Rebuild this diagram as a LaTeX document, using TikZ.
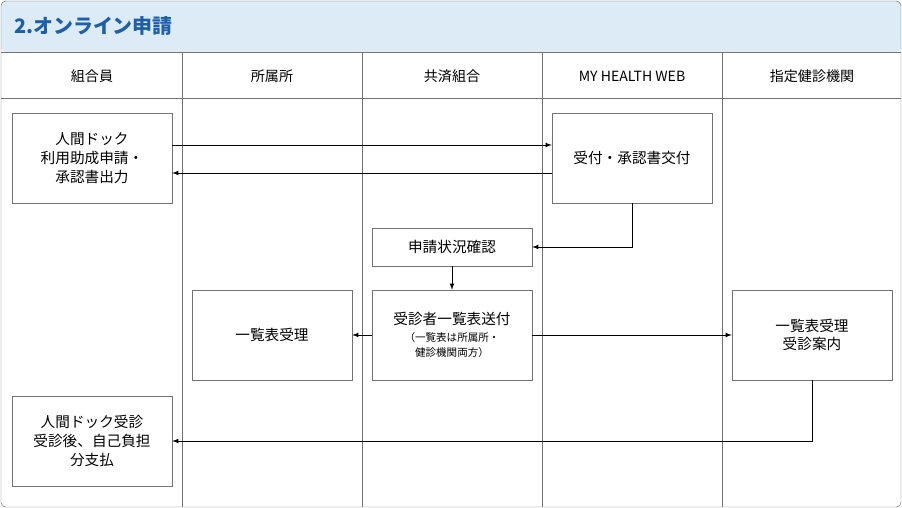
\documentclass[tikz,border=0pt]{standalone}
\usepackage{fontspec}
\setmainfont{Noto Sans CJK JP}
\usetikzlibrary{positioning}
\definecolor{bandblue}{HTML}{DCEBF6}
\definecolor{titleblue}{HTML}{1E5FA8}
\tikzset{
  stepbox/.style={draw=black!55, fill=white, minimum width=4.8cm, minimum height=2.7cm, align=center, font=\fontsize{12.5}{16}\selectfont, inner sep=0pt},
  flat/.style={stepbox, minimum height=1.14cm},
  colhead/.style={font=\fontsize{12}{14}\selectfont},
  arr/.style={->, >=latex, thick}
}
\begin{document}
\begin{tikzpicture}[x=0.03cm, y=-0.03cm]
\useasboundingbox (0,0) rectangle (902,508);
% frame and title band
\fill[bandblue, rounded corners=4] (1,1) rectangle (901,52);
\draw[black!55] (1,52) -- (901,52) (1,98) -- (901,98);
\foreach \x in {182,362,542,722}
  \draw[black!55] (\x,52) -- (\x,507);
\draw[black!55, rounded corners=4] (1,1) rectangle (901,507);
\node[anchor=west, text=titleblue, font=\fontsize{17}{20}\selectfont\bfseries] (title) at (10,26) {2.オンライン申請};
% column heads
\node[colhead] (h1) at (92,76) {組合員};
\node[colhead] (h2) at (272,76) {所属所};
\node[colhead] (h3) at (452,76) {共済組合};
\node[colhead] (h4) at (632,76) {MY HEALTH WEB};
\node[colhead] (h5) at (812,76) {指定健診機関};
% steps
\node[stepbox] (apply) at (92,158) {人間ドック\\利用助成申請・\\承認書出力};
\node[stepbox] (accept) at (632,158) {受付・承認書交付};
\node[flat] (check) at (452,247) {申請状況確認};
\node[stepbox] (listso) at (272,335) {一覧表受理};
\node[stepbox] (send) at (452,335) {受診者一覧表送付\\[-2pt]{\fontsize{9}{11}\selectfont（一覧表は所属所・}\\[-3pt]{\fontsize{9}{11}\selectfont 健診機関両方）}};
\node[stepbox] (listkk) at (812,335) {一覧表受理\\受診案内};
\node[stepbox] (pay) at (92,441) {人間ドック受診\\受診後、自己負担\\分支払};
% connectors
\draw[arr] ([yshift=0.39cm]apply.east) -- ([yshift=0.39cm]accept.west);
\draw[arr] ([yshift=-0.45cm]accept.west) -- ([yshift=-0.45cm]apply.east);
\draw[arr] (accept.south) |- (check.east);
\draw[arr] (check) -- (send);
\draw[arr] (send) -- (listso);
\draw[arr] (send) -- (listkk);
\draw[arr] (listkk.south) |- (pay.east);
\end{tikzpicture}
\end{document}
